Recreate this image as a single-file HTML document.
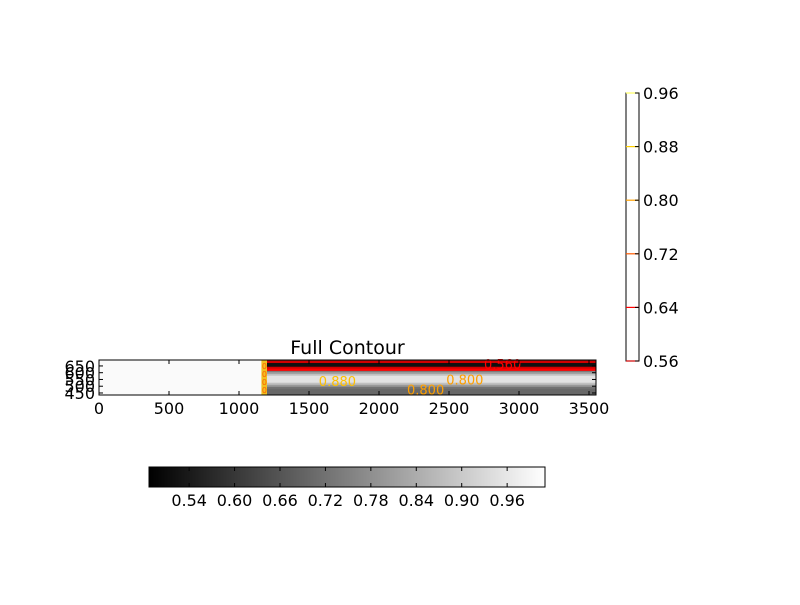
<!DOCTYPE html>
<html><head><meta charset="utf-8"><style>
body{margin:0;background:#fff;}
svg text{font-family:"DejaVu Sans","Liberation Sans",sans-serif;}
</style></head><body>
<svg id="c" width="800" height="600" xmlns="http://www.w3.org/2000/svg">
<rect width="800" height="600" fill="#fff"/>
</svg>
<script>
const xTicks=[0,500,1000,1500,2000,2500,3000,3500];
const yTicks=[450,500,550,600,650];
const levels=[0.56,0.64,0.72,0.80,0.88,0.96];
const levelColors=['#d00000','#ff0000','#ff5a00','#ffa000','#ffd000','#ffff60'];
const hTicks=[0.54,0.60,0.66,0.72,0.78,0.84,0.90,0.96];
// profile of right region: row top data-y and value
const rowY=[694,680,672,636,622,607,592,578,526,511,496,481,437];
const rowV=[0.60,0.55,0.52,0.62,0.72,0.80,0.88,0.95,0.88,0.80,0.72,0.70,0.70];
const leftV=1.0;
const splitX=[0,1160,1200,3550];
const labels=[{t:'0.880',x:1570,y:540,c:'#ffc000'},{t:'0.800',x:2200,y:475,c:'#ffa000'},{t:'0.800',x:2480,y:550,c:'#ffa000'},{t:'0.560',x:2750,y:665,c:'#ff0000'}];

const svg=document.getElementById('c');const NS='http://www.w3.org/2000/svg';
function mk(t,a,p){const e=document.createElementNS(NS,t);for(const k in a)e.setAttribute(k,a[k]);(p||svg).appendChild(e);return e;}
const X0=99,X1=596,Y0=360,Y1=395,xMin=0,xMax=3550,yMin=435,yMax=694;
const sx=v=>X0+(v-xMin)/(xMax-xMin)*(X1-X0);
const sy=v=>Y1-(v-yMin)/(yMax-yMin)*(Y1-Y0);
const cMin=0.487,cMax=1.01;
const gray=v=>{const b=Math.round(Math.max(0,Math.min(1,(v-cMin)/(cMax-cMin)))*255);return `rgb(${b},${b},${b})`;};
const g=mk('g',{});
let r=mk('rect',{x:sx(splitX[0]),y:Y0,width:sx(splitX[1])-sx(splitX[0]),height:Y1-Y0,fill:'#fafafa'},g);

for(let i=0;i<rowY.length-1;i++){
 const c=mk('rect',{x:sx(splitX[2]),y:sy(rowY[i]),width:sx(splitX[3])-sx(splitX[2]),height:sy(rowY[i+1])-sy(rowY[i])+0.5,fill:gray(rowV[i])},g);
 
}
// transition band with contour labels
const tb=mk('rect',{x:sx(splitX[1]),y:Y0,width:sx(splitX[2])-sx(splitX[1]),height:Y1-Y0,fill:'#f0c020'},g);

for(let k=0;k<4;k++){const t=mk('text',{x:sx(splitX[1])+3,y:Y0+9+k*8,fill:'#ff6000','font-size':8,'text-anchor':'middle'},g);t.textContent='0';
 }
// contour lines
for(let i=0;i<rowY.length-1;i++){
 const a=rowV[i],b=rowV[i+1];
 levels.forEach((lv,k)=>{if((a-lv)*(b-lv)<0){const l=mk('line',{x1:sx(splitX[2]),x2:sx(splitX[3]),y1:sy(rowY[i+1]),y2:sy(rowY[i+1]),stroke:levelColors[k],'stroke-width':2.2},g);
 }});
}
labels.forEach(o=>{const t=mk('text',{x:sx(o.x),y:sy(o.y)+5,fill:o.c,'font-size':13},g);t.textContent=o.t;
 });
const fr=mk('rect',{x:X0,y:Y0,width:X1-X0,height:Y1-Y0,fill:'none',stroke:'#000'});

xTicks.forEach(v=>{mk('line',{x1:sx(v),x2:sx(v),y1:Y1,y2:Y1-4,stroke:'#000'});mk('line',{x1:sx(v),x2:sx(v),y1:Y0,y2:Y0+4,stroke:'#000'});
 const t=mk('text',{x:sx(v),y:Y1+19,'text-anchor':'middle','font-size':16});t.textContent=v;
 });
yTicks.forEach(v=>{mk('line',{x1:X0,x2:X0+4,y1:sy(v),y2:sy(v),stroke:'#000'});mk('line',{x1:X1,x2:X1-4,y1:sy(v),y2:sy(v),stroke:'#000'});
 const t=mk('text',{x:X0-4,y:sy(v)+6,'text-anchor':'end','font-size':16});t.textContent=v;
 });
let tt=mk('text',{x:(X0+X1)/2,y:354,'text-anchor':'middle','font-size':19});tt.textContent='Full Contour';

// vertical colorbar (lines)
const VX0=626,VX1=639,VY0=93,VY1=361;
const vy=v=>VY1-(v-levels[0])/(levels[levels.length-1]-levels[0])*(VY1-VY0);
const vb=mk('rect',{x:VX0,y:VY0,width:VX1-VX0,height:VY1-VY0,fill:'#fff',stroke:'#000'});

levels.forEach((v,k)=>{mk('line',{x1:VX0,x2:VX1,y1:vy(v),y2:vy(v),stroke:levelColors[k],'stroke-width':1.2});
 mk('line',{x1:VX1-4,x2:VX1,y1:vy(v),y2:vy(v),stroke:'#000'});
 const t=mk('text',{x:VX1+4,y:vy(v)+6,'font-size':16});t.textContent=v.toFixed(2);
 });
// horizontal colorbar
const HX0=149,HX1=545,HY0=467,HY1=487;
const hx=v=>HX0+(v-cMin)/(cMax-cMin)*(HX1-HX0);
const hg=mk('g',{});
for(let i=0;i<HX1-HX0;i++){const v=cMin+(i+0.5)/(HX1-HX0)*(cMax-cMin);mk('rect',{x:HX0+i,y:HY0,width:1.2,height:HY1-HY0,fill:gray(v)},hg);}
mk('rect',{x:HX0,y:HY0,width:HX1-HX0,height:HY1-HY0,fill:'none',stroke:'#000'});
hTicks.forEach(v=>{mk('line',{x1:hx(v),x2:hx(v),y1:HY0,y2:HY0+4,stroke:'#000'});mk('line',{x1:hx(v),x2:hx(v),y1:HY1,y2:HY1-4,stroke:'#000'});
 const t=mk('text',{x:hx(v),y:HY1+19,'text-anchor':'middle','font-size':16});t.textContent=v.toFixed(2);
 });
</script>
</body></html>
